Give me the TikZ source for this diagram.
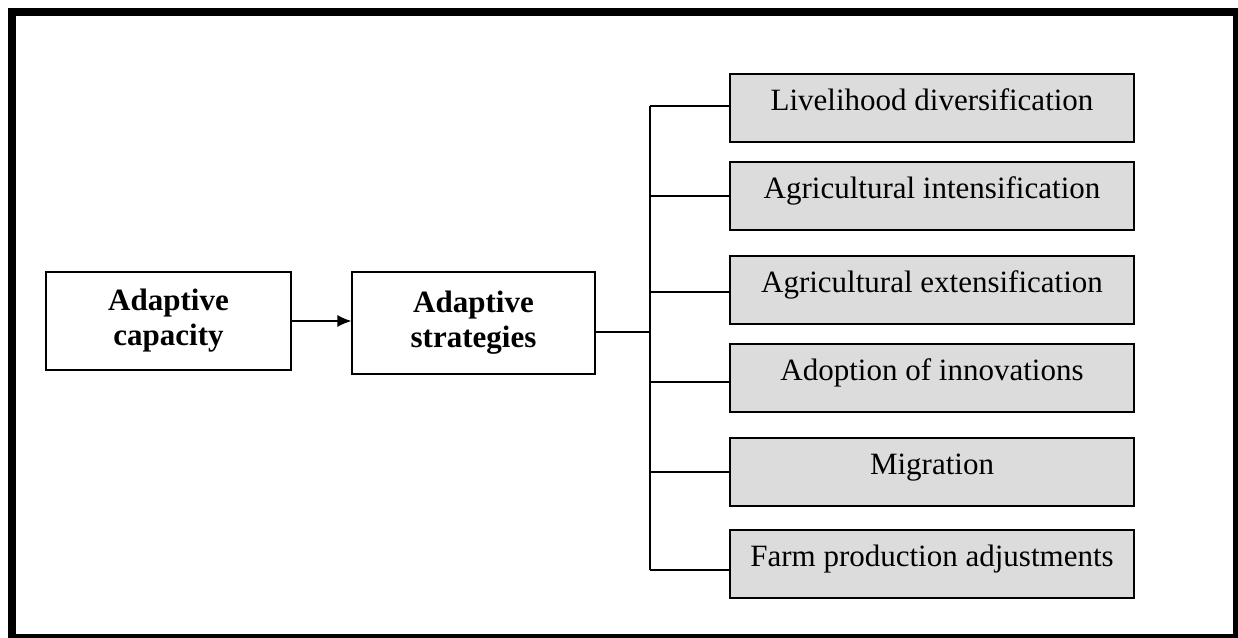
\documentclass[tikz,border=0pt]{standalone}
\usepackage{fontspec}
\setmainfont{Liberation Serif}
\usetikzlibrary{arrows.meta}
\definecolor{boxgray}{RGB}{220,220,220}
\begin{document}
\begin{tikzpicture}[x=1pt,y=-1pt,
  mainbox/.style={draw=black,line width=1.3pt,fill=white,inner sep=0pt,
    align=center,font=\fontsize{31}{35}\selectfont\bfseries},
  optbox/.style={draw=black,line width=1.3pt,fill=boxgray,inner sep=0pt,
    minimum width=404pt,minimum height=68pt,text height=20pt,text depth=16pt,
    font=\fontsize{31}{35}\selectfont},
  conn/.style={draw=black,line width=1.3pt}]
\useasboundingbox (0,0) rectangle (1238,637);
\draw[line width=8pt] (12,12) rectangle (1237,638);

\node[mainbox,minimum width=245pt,minimum height=98pt] (cap) at (168.5,321) {Adaptive\\capacity};
\node[mainbox,minimum width=243pt,minimum height=102pt] (strat) at (473.5,323) {Adaptive\\strategies};

\node[optbox] (b1) at (932,108) {Livelihood diversification};
\node[optbox] (b2) at (932,196) {Agricultural intensification};
\node[optbox] (b3) at (932,290) {Agricultural extensification};
\node[optbox] (b4) at (932,378) {Adoption of innovations};
\node[optbox] (b5) at (932,472) {Migration};
\node[optbox] (b6) at (932,564) {Farm production adjustments};

\draw[conn,-{Latex[length=14pt,width=12pt]}] (cap.east) -- (cap.east -| strat.west);

\coordinate (js) at (650,332);
\coordinate (j1) at (650,106);
\coordinate (j2) at (650,196);
\coordinate (j3) at (650,292);
\coordinate (j4) at (650,382);
\coordinate (j5) at (650,472);
\coordinate (j6) at (650,570);

\draw[conn] (js -| strat.east) -- (js);
\draw[conn] (j1) -- (j6);
\draw[conn] (j1) -- (j1 -| b1.west);
\draw[conn] (j2) -- (j2 -| b2.west);
\draw[conn] (j3) -- (j3 -| b3.west);
\draw[conn] (j4) -- (j4 -| b4.west);
\draw[conn] (j5) -- (j5 -| b5.west);
\draw[conn] (j6) -- (j6 -| b6.west);
\end{tikzpicture}
\end{document}
